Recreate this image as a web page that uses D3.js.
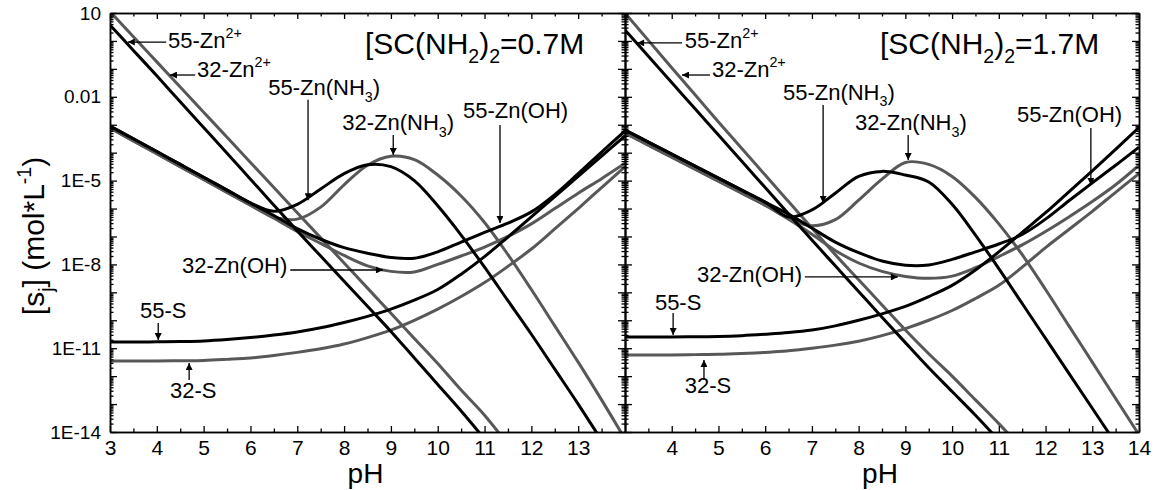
<!DOCTYPE html>
<html>
<head>
<meta charset="utf-8">
<script src="https://cdn.jsdelivr.net/npm/d3@7"></script>
<style>
  body { margin: 0; background: #fff; }
  text { font-family: "Liberation Sans", Arial, sans-serif; fill: #000; }
</style>
</head>
<body>
<div id="chart"></div>
<script>
// pH grid shared by every curve, values are log10 of concentration
const pH = [3,3.5,4,4.5,5,5.5,6,6.5,7,7.5,8,8.5,9,9.5,10,10.5,11,11.5,12,12.5,13,13.5,14];

// [SC(NH2)2] = 0.7M  (55 = black, 32 = gray)
const zn55_07 = [0.57,-0.34,-1.25,-2.18,-3.1,-4.02,-4.95,-5.88,-6.8,-7.7,-8.6,-9.5,-10.4,-11.35,-12.3,-13.25,-14.25,null,null,null,null,null,null];
const zn32_07 = [1.05,0.15,-0.75,-1.65,-2.55,-3.45,-4.35,-5.25,-6.15,-7.05,-7.95,-8.85,-9.75,-10.65,-11.55,-12.5,-13.4,-14.45,null,null,null,null,null];
const nh55_07 = [-3.05,-3.5,-3.96,-4.42,-4.88,-5.34,-5.8,-6.1,-5.85,-5.3,-4.75,-4.43,-4.5,-5.0,-5.9,-6.95,-8.1,-9.3,-10.5,-11.75,-13.0,-14.3,null];
const nh32_07 = [-3.12,-3.58,-4.04,-4.5,-4.96,-5.42,-5.88,-6.3,-6.38,-5.95,-5.15,-4.45,-4.13,-4.25,-4.8,-5.55,-6.5,-7.65,-8.9,-10.2,-11.5,-12.85,-14.25];
const oh55_07 = [-3.05,-3.5,-3.96,-4.42,-4.88,-5.34,-5.8,-6.25,-6.72,-7.1,-7.4,-7.6,-7.75,-7.78,-7.55,-7.2,-6.85,-6.52,-6.12,-5.5,-4.75,-3.98,-3.22];
const oh32_07 = [-3.12,-3.58,-4.04,-4.5,-4.96,-5.42,-5.88,-6.35,-6.82,-7.25,-7.68,-8.05,-8.25,-8.27,-8.0,-7.7,-7.38,-7.0,-6.55,-6.0,-5.45,-4.93,-4.38];
const s55_07  = [-10.78,-10.78,-10.77,-10.76,-10.74,-10.69,-10.62,-10.53,-10.42,-10.27,-10.08,-9.86,-9.6,-9.28,-8.9,-8.35,-7.72,-7.02,-6.3,-5.57,-4.85,-4.12,-3.4];
const s32_07  = [-11.46,-11.46,-11.46,-11.45,-11.44,-11.4,-11.35,-11.26,-11.15,-11.02,-10.85,-10.62,-10.35,-10.0,-9.6,-9.15,-8.65,-8.07,-7.45,-6.73,-6.0,-5.25,-4.5];

// [SC(NH2)2] = 1.7M
const zn55_17 = [0.39,-0.55,-1.49,-2.43,-3.37,-4.31,-5.25,-6.19,-7.13,-8.05,-8.97,-9.89,-10.8,-11.7,-12.55,-13.4,-14.3,null,null,null,null,null,null];
const zn32_17 = [1.0,0.02,-0.96,-1.93,-2.9,-3.85,-4.8,-5.75,-6.7,-7.65,-8.55,-9.45,-10.35,-11.2,-12.0,-12.85,-13.7,-14.6,null,null,null,null,null];
const nh55_17 = [-3.19,-3.62,-4.05,-4.48,-4.91,-5.34,-5.77,-6.3,-6.05,-5.45,-4.85,-4.67,-4.8,-5.05,-5.85,-6.95,-8.15,-9.4,-10.65,-11.9,-13.15,-14.4,null];
const nh32_17 = [-3.3,-3.73,-4.16,-4.59,-5.02,-5.45,-5.88,-6.35,-6.62,-6.4,-5.7,-4.95,-4.35,-4.42,-4.85,-5.6,-6.55,-7.65,-8.9,-10.2,-11.5,-12.8,-14.1];
const oh55_17 = [-3.19,-3.62,-4.05,-4.48,-4.91,-5.34,-5.77,-6.2,-6.7,-7.2,-7.58,-7.88,-8.03,-8.02,-7.82,-7.55,-7.27,-6.93,-6.38,-5.72,-5.08,-4.45,-3.8];
const oh32_17 = [-3.3,-3.73,-4.16,-4.59,-5.02,-5.45,-5.88,-6.38,-6.92,-7.5,-7.95,-8.25,-8.43,-8.5,-8.42,-8.12,-7.72,-7.3,-6.82,-6.3,-5.75,-5.15,-4.45];
const s55_17  = [-10.6,-10.6,-10.6,-10.59,-10.58,-10.55,-10.5,-10.44,-10.35,-10.2,-10.0,-9.77,-9.5,-9.15,-8.75,-8.2,-7.55,-6.85,-6.15,-5.4,-4.65,-3.88,-3.1];
const s32_17  = [-11.24,-11.24,-11.24,-11.23,-11.22,-11.19,-11.15,-11.09,-11.0,-10.89,-10.75,-10.55,-10.3,-10.0,-9.65,-9.22,-8.75,-8.1,-7.4,-6.75,-6.1,-5.42,-4.75];

// axis ticks
const yTickValues = [10, 1e-2, 1e-5, 1e-8, 1e-11, 1e-14];
const yTickLabels = ['10', '0.01', '1E-5', '1E-8', '1E-11', '1E-14'];
const xTicksLeft  = [3,4,5,6,7,8,9,10,11,12,13];
const xTicksRight = [4,5,6,7,8,9,10,11,12,13,14];

// annotations: text parts, text anchor (pH, log c), arrow tail -> tip (pH, log c)
const notesLeft = [
  {t:[['55-Zn'],['2+','sup']],     at:[4.24,-0.25], arrow:[[4.2,-0.04],[3.38,-0.04]]},
  {t:[['32-Zn'],['2+','sup']],     at:[4.86,-1.29], arrow:[[4.82,-1.22],[4.28,-1.22]]},
  {t:[['55-Zn(NH'],['3','sub'],[')']], at:[6.38,-1.94], arrow:[[7.23,-2.11],[7.23,-5.7]]},
  {t:[['32-Zn(NH'],['3','sub'],[')']], at:[7.96,-3.19], arrow:[[9.05,-3.37],[9.05,-4.08]]},
  {t:[['55-Zn(OH)']],              at:[10.54,-2.76], arrow:[[11.33,-3.01],[11.33,-6.52]]},
  {t:[['32-Zn(OH)']],              at:[4.54,-8.31], arrow:[[6.85,-8.2],[8.83,-8.2]]},
  {t:[['55-S']],                   at:[3.64,-9.92], arrow:[[4.03,-10.1],[4.03,-10.71]]},
  {t:[['32-S']],                   at:[4.28,-12.78], arrow:[[4.69,-12.14],[4.69,-11.53]]}
];
const notesRight = [
  {t:[['55-Zn'],['2+','sup']],     at:[4.28,-0.25], arrow:[[4.22,-0.07],[3.26,-0.07]]},
  {t:[['32-Zn'],['2+','sup']],     at:[4.86,-1.29], arrow:[[4.82,-1.22],[4.22,-1.22]]},
  {t:[['55-Zn(NH'],['3','sub'],[')']], at:[6.38,-2.11], arrow:[[7.24,-2.29],[7.24,-5.8]]},
  {t:[['32-Zn(NH'],['3','sub'],[')']], at:[7.92,-3.19], arrow:[[9.06,-3.37],[9.06,-4.26]]},
  {t:[['55-Zn(OH)']],              at:[11.39,-2.9], arrow:[[12.97,-3.12],[12.97,-5.16]]},
  {t:[['32-Zn(OH)']],              at:[4.54,-8.63], arrow:[[6.85,-8.45],[8.84,-8.45]]},
  {t:[['55-S']],                   at:[3.64,-9.63], arrow:[[4.03,-9.74],[4.03,-10.53]]},
  {t:[['32-S']],                   at:[4.28,-12.6], arrow:[[4.69,-12.14],[4.69,-11.42]]}
];

const BLACK = '#000', GRAY = '#585858';
const panels = [
  {x0:110, x1:625, conc:'0.7', xTicks:xTicksLeft, yLabels:true, notes:notesLeft,
   series:[[zn32_07,GRAY],[nh32_07,GRAY],[oh32_07,GRAY],[s32_07,GRAY],
           [zn55_07,BLACK],[nh55_07,BLACK],[oh55_07,BLACK],[s55_07,BLACK]]},
  {x0:625, x1:1139, conc:'1.7', xTicks:xTicksRight, yLabels:false, notes:notesRight,
   series:[[zn32_17,GRAY],[nh32_17,GRAY],[oh32_17,GRAY],[s32_17,GRAY],
           [zn55_17,BLACK],[nh55_17,BLACK],[oh55_17,BLACK],[s55_17,BLACK]]}
];

const W = 1155, H = 490, yTop = 13, yBot = 432;
const svg = d3.select('#chart').append('svg').attr('width', W).attr('height', H);
const defs = svg.append('defs');
defs.append('marker').attr('id', 'ah')
  .attr('viewBox', '0 0 10 10').attr('refX', 10).attr('refY', 5)
  .attr('markerWidth', 9).attr('markerHeight', 7)
  .attr('markerUnits', 'userSpaceOnUse').attr('orient', 'auto')
  .append('path').attr('d', 'M0,0L10,5L0,10z').attr('fill', '#000');

const y = d3.scaleLog().domain([1e-14, 10]).range([yBot, yTop]);
const isDecade = v => Math.abs(Math.log10(v) - Math.round(Math.log10(v))) < 1e-9;
const decades = y.ticks(20).filter(isDecade);
const minors = y.ticks(20).filter(v => !isDecade(v));

// text with sub/superscripts
function rich(g, parts, x, yy, size, anchor) {
  const t = g.append('text').attr('x', x).attr('y', yy)
    .attr('font-size', size).attr('text-anchor', anchor || 'start');
  let shift = 0;
  parts.forEach(([s, k]) => {
    const target = k === 'sup' ? -0.45 * size : k === 'sub' ? 0.3 * size : 0;
    const ts = t.append('tspan').text(s).attr('dy', target - shift);
    if (k) ts.attr('font-size', size * 0.65);
    shift = target;
  });
  return t;
}

panels.forEach((p, i) => {
  const x = d3.scaleLinear().domain([3, 14]).range([p.x0, p.x1]);
  const g = svg.append('g');

  defs.append('clipPath').attr('id', 'clip' + i)
    .append('rect').attr('x', p.x0).attr('y', yTop).attr('width', p.x1 - p.x0).attr('height', yBot - yTop);

  // curves
  const line = d3.line()
    .defined(d => d[1] !== null)
    .x(d => x(d[0]))
    .y(d => y(Math.pow(10, d[1])))
    .curve(d3.curveCatmullRom.alpha(0.5));
  const curves = g.append('g').attr('clip-path', `url(#clip${i})`);
  p.series.forEach(([vals, col]) => {
    curves.append('path')
      .datum(pH.map((v, j) => [v, vals[j]]))
      .attr('d', line)
      .attr('fill', 'none').attr('stroke', col).attr('stroke-width', 3)
      .attr('stroke-linejoin', 'round');
  });

  // axes
  const styleAxis = sel => {
    sel.select('.domain').attr('stroke-width', 1.5);
    sel.selectAll('.tick line').attr('stroke-width', 1.3);
    sel.attr('font-family', null);
  };
  g.append('g').attr('transform', `translate(0,${yBot})`)
    .call(d3.axisBottom(x).tickValues(p.xTicks).tickSize(-6).tickSizeOuter(0).tickPadding(8))
    .call(styleAxis).selectAll('text').attr('font-size', 21);
  g.append('g').attr('transform', `translate(0,${yBot})`)
    .call(d3.axisBottom(x).tickValues(d3.range(3.5, 14, 1)).tickSize(-3.5).tickSizeOuter(0).tickFormat(''))
    .call(styleAxis);
  g.append('g').attr('transform', `translate(0,${yTop})`)
    .call(d3.axisTop(x).tickValues(d3.range(3, 14.01, 1)).tickSize(-6).tickSizeOuter(0).tickFormat(''))
    .call(styleAxis);
  g.append('g').attr('transform', `translate(0,${yTop})`)
    .call(d3.axisTop(x).tickValues(d3.range(3.5, 14, 1)).tickSize(-3.5).tickSizeOuter(0).tickFormat(''))
    .call(styleAxis);

  const fmt = v => {
    if (!p.yLabels) return '';
    const k = yTickValues.findIndex(t => Math.abs(Math.log10(t) - Math.log10(v)) < 1e-9);
    return k >= 0 ? yTickLabels[k] : '';
  };
  g.append('g').attr('transform', `translate(${p.x0},0)`)
    .call(d3.axisLeft(y).tickValues(decades).tickSize(-7).tickSizeOuter(0).tickPadding(9).tickFormat(fmt))
    .call(styleAxis).selectAll('text').attr('font-size', 19);
  g.append('g').attr('transform', `translate(${p.x0},0)`)
    .call(d3.axisLeft(y).tickValues(minors).tickSize(-3.5).tickSizeOuter(0).tickFormat(''))
    .call(styleAxis);
  g.append('g').attr('transform', `translate(${p.x1},0)`)
    .call(d3.axisRight(y).tickValues(decades).tickSize(-7).tickSizeOuter(0).tickFormat(''))
    .call(styleAxis);
  g.append('g').attr('transform', `translate(${p.x1},0)`)
    .call(d3.axisRight(y).tickValues(minors).tickSize(-3.5).tickSizeOuter(0).tickFormat(''))
    .call(styleAxis);

  // title
  rich(g, [['[SC(NH'], ['2', 'sub'], [')'], ['2', 'sub'], ['=' + p.conc + 'M']],
       x(3) + 255, 54, 30);

  // annotations
  p.notes.forEach(n => {
    g.append('line')
      .attr('x1', x(n.arrow[0][0])).attr('y1', y(Math.pow(10, n.arrow[0][1])))
      .attr('x2', x(n.arrow[1][0])).attr('y2', y(Math.pow(10, n.arrow[1][1])))
      .attr('stroke', '#000').attr('stroke-width', 1.3).attr('marker-end', 'url(#ah)');
    rich(g, n.t, x(n.at[0]), y(Math.pow(10, n.at[1])), 22);
  });

  // x title
  svg.append('text').attr('x', (p.x0 + p.x1) / 2 - 2).attr('y', 483)
    .attr('text-anchor', 'middle').attr('font-size', 28).text('pH');
});

// y title
const yl = svg.append('g').attr('transform', 'translate(44,236) rotate(-90)');
rich(yl, [['[s'], ['j', 'sub'], ['] (mol*L'], ['-1', 'sup'], [')']], 0, 0, 30, 'middle');
</script>
</body>
</html>
